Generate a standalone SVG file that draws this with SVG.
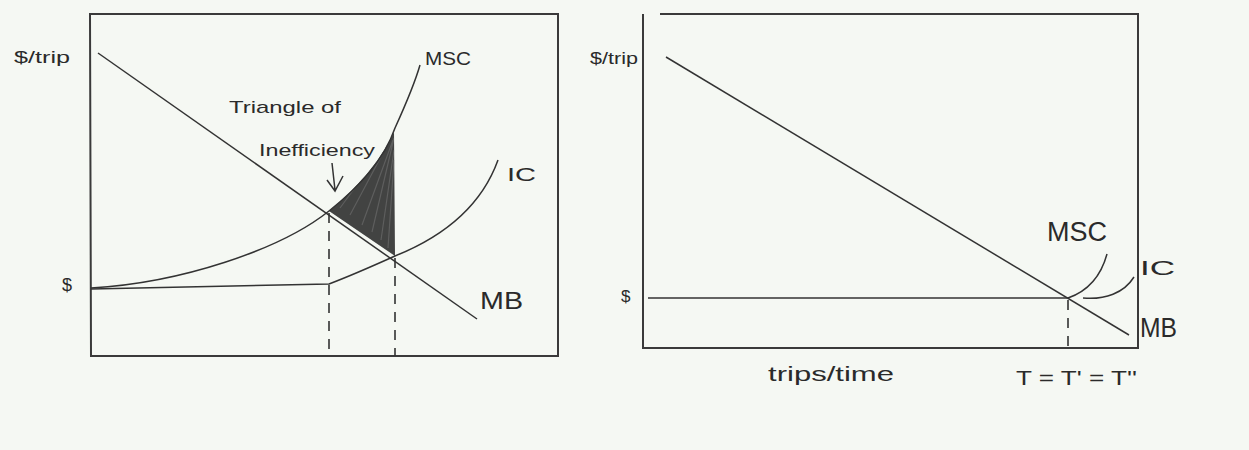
<svg xmlns="http://www.w3.org/2000/svg" width="1249" height="450" viewBox="0 0 1249 450">
<style>
.frame{fill:none;stroke:#3a3a3a;stroke-width:2}
.curve{fill:none;stroke:#333;stroke-width:1.5}
.dash{fill:none;stroke:#333;stroke-width:1.6;stroke-dasharray:10 8}
.streak{fill:none;stroke:#6a6a6a;stroke-width:1.2;opacity:0.7}
.lbl{font-family:"Liberation Sans",Arial,sans-serif;fill:#2a2a2a}
</style>
<defs>
  <clipPath id="tri-clip">
    <path d="M329,211 C355,190 380,162 394,132 L395,256 Z"/>
  </clipPath>
</defs>
<rect width="1249" height="450" fill="#f5f8f3"/>
<g id="left-chart">
  <g id="left-frame">
    <path class="frame" d="M90,14 H558 V356 H91 Z"/>
  </g>
  <g id="left-shading">
    <path d="M329,211 C355,190 380,162 394,132 L395,256 Z" fill="#2f2f2f" opacity="0.9"/>
    <g clip-path="url(#tri-clip)">
      <path class="streak" d="M392,136 L350,215 M393,140 L362,225 M394,138 L372,232 M394,150 L381,240 M394,160 L388,248 M390,140 L340,208"/>
    </g>
  </g>
  <g id="connectors-left">
    <path id="left-mb" class="curve" d="M98,53 L477,319"/>
    <path id="left-msc" class="curve" d="M91,288 C180,283 280,250 329,211 C360,186 384,160 395,128 C405,106 414,86 420,65"/>
    <path id="left-ic" class="curve" d="M91,289 L329,284 C350,276 375,265 395,256 C440,238 480,210 498,160"/>
    <path id="left-dash1" class="dash" d="M329,213 V350"/>
    <path id="left-dash2" class="dash" d="M395,258 V356"/>
    <path id="left-arrow" class="curve" d="M332,163 L335,190 M327,180 L335,191 L343,176"/>
  </g>
  <g id="left-labels">
    <text class="lbl" x="14" y="63" font-size="17" textLength="56" lengthAdjust="spacingAndGlyphs">$/trip</text>
    <text class="lbl" x="62" y="291" font-size="18">$</text>
    <text class="lbl" x="425" y="65" font-size="19" textLength="46" lengthAdjust="spacingAndGlyphs">MSC</text>
    <text class="lbl" x="507" y="181" font-size="19" textLength="29" lengthAdjust="spacingAndGlyphs">IC</text>
    <text class="lbl" x="480" y="309" font-size="23" textLength="43" lengthAdjust="spacingAndGlyphs">MB</text>
    <text class="lbl" x="229" y="113" font-size="17" textLength="112" lengthAdjust="spacingAndGlyphs">Triangle of</text>
    <text class="lbl" x="259" y="156" font-size="17" textLength="116" lengthAdjust="spacingAndGlyphs">Inefficiency</text>
  </g>
</g>
<g id="right-chart">
  <g id="right-frame">
    <path class="frame" d="M643,14 V348 H1138 V14 H660"/>
  </g>
  <g id="connectors-right">
    <path id="right-mb" class="curve" d="M666,57 L1129,335"/>
    <path id="right-price" class="curve" d="M648,298 H1068"/>
    <path id="right-msc" class="curve" d="M1068,298 C1088,291 1101,276 1107,254"/>
    <path id="right-ic" class="curve" d="M1083,298 C1105,300 1124,293 1134,277"/>
    <path id="right-dash" class="dash" d="M1068,300 V346"/>
  </g>
  <g id="right-labels">
    <text class="lbl" x="590" y="64" font-size="17" textLength="48" lengthAdjust="spacingAndGlyphs">$/trip</text>
    <text class="lbl" x="621" y="302" font-size="17">$</text>
    <text class="lbl" x="1047" y="241" font-size="27" textLength="60" lengthAdjust="spacingAndGlyphs">MSC</text>
    <text class="lbl" x="1140" y="275" font-size="20" textLength="35" lengthAdjust="spacingAndGlyphs">IC</text>
    <text class="lbl" x="1140" y="337" font-size="27" textLength="37" lengthAdjust="spacingAndGlyphs">MB</text>
    <text class="lbl" x="768" y="381" font-size="20" textLength="126" lengthAdjust="spacingAndGlyphs">trips/time</text>
    <text class="lbl" x="1016" y="385" font-size="20" textLength="121" lengthAdjust="spacingAndGlyphs">T = T' = T''</text>
  </g>
</g>
</svg>
